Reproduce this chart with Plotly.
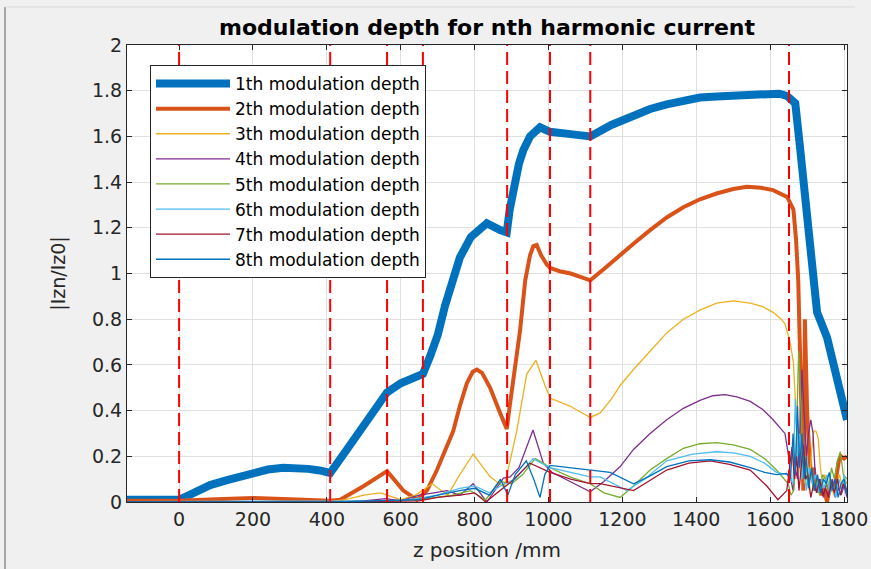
import plotly.graph_objects as go

# ---------------- data ----------------
names = [f"{n}th modulation depth" for n in range(1, 9)]
colors = ["#0072BD", "#D95319", "#EDB120", "#7E2F8E", "#77AC30", "#4DBEEE", "#A2142F", "#0072BD"]
widths = [8, 4, 1.3, 1.3, 1.3, 1.3, 1.3, 1.3]

z1 = [-141, 0, 20, 50, 84, 130, 170, 200, 240, 282, 320, 350, 380, 409, 450, 500, 540, 563, 600, 640,
      660, 680, 700, 720, 740, 760, 790, 833, 869, 887, 895, 905, 920, 932, 950, 977, 1004, 1060, 1113,
      1170, 1230, 1275, 1320, 1365, 1410, 1455, 1500, 1550, 1592, 1625, 1646, 1668, 1681, 1700, 1716,
      1727, 1754, 1771, 1789, 1808]
v1 = [0.01, 0.01, 0.025, 0.05, 0.074, 0.096, 0.115, 0.13, 0.142, 0.15, 0.15, 0.145, 0.138, 0.127, 0.22,
      0.33, 0.43, 0.48, 0.52, 0.545, 0.56, 0.64, 0.73, 0.86, 0.98, 1.07, 1.16, 1.22, 1.19, 1.18, 1.28,
      1.38, 1.48, 1.54, 1.60, 1.64, 1.62, 1.61, 1.60, 1.65, 1.69, 1.72, 1.74, 1.755, 1.77, 1.775, 1.78,
      1.785, 1.79, 1.787, 1.777, 1.745, 1.55, 1.23, 0.97, 0.83, 0.72, 0.61, 0.49, 0.36]

z2 = [-141, 0, 100, 200, 300, 409, 436, 500, 563, 607, 644, 671, 698, 720, 742, 760, 779, 795, 806,
      820, 842, 869, 887, 895, 905, 915, 923, 937, 950, 959, 968, 980, 995, 1004, 1030, 1060, 1090, 1113,
      1150, 1185, 1230, 1275, 1320, 1365, 1410, 1455, 1500, 1537, 1575, 1608, 1630, 1646, 1663, 1670,
      1676, 1684, 1690, 1694, 1700, 1706, 1712, 1718, 1724, 1730, 1738, 1746, 1754, 1762, 1770, 1778,
      1786, 1792, 1800, 1808]
v2 = [0.005, 0.005, 0.012, 0.018, 0.012, 0.005, 0.01, 0.07, 0.135, 0.05, 0.01, 0.05, 0.14, 0.22, 0.31,
      0.42, 0.52, 0.57, 0.58, 0.565, 0.50, 0.39, 0.32, 0.42, 0.53, 0.65, 0.75, 0.97, 1.08, 1.12, 1.125,
      1.08, 1.04, 1.025, 1.01, 1.0, 0.985, 0.97, 1.02, 1.07, 1.13, 1.19, 1.245, 1.29, 1.325, 1.35, 1.37,
      1.38, 1.375, 1.365, 1.35, 1.335, 1.28, 1.15, 0.97, 0.5, 0.05, 0.8, 0.4, 0.2, 0.1, 0.15, 0.05, 0.1,
      0.03, 0.06, 0.0, 0.08, 0.05, 0.1, 0.18, 0.2, 0.19, 0.2]

z3 = [-141, 0, 200, 409, 450, 500, 545, 600, 640, 685, 727, 760, 796, 842, 880, 914, 941, 966, 986,
      1004, 1058, 1113, 1140, 1170, 1194, 1230, 1275, 1320, 1365, 1410, 1455, 1500, 1546, 1580, 1608,
      1630, 1640, 1654, 1663, 1670, 1676, 1682, 1688, 1694, 1700, 1706, 1712, 1718, 1724, 1730, 1736,
      1742, 1748, 1756, 1764, 1772, 1780, 1788, 1796, 1802, 1808]
v3 = [0.0, 0.0, 0.002, 0.002, 0.01, 0.03, 0.04, 0.01, 0.03, 0.08, 0.03, 0.12, 0.21, 0.11, 0.065, 0.31,
      0.56, 0.62, 0.53, 0.455, 0.42, 0.37, 0.39, 0.45, 0.51, 0.58, 0.66, 0.74, 0.80, 0.84, 0.87, 0.88,
      0.87, 0.855, 0.83, 0.80, 0.78, 0.70, 0.61, 0.40, 0.2, 0.12, 0.18, 0.08, 0.12, 0.05, 0.22, 0.31,
      0.31, 0.28, 0.15, 0.08, 0.12, 0.05, 0.1, 0.03, 0.08, 0.12, 0.06, 0.1, 0.08]

z4 = [-141, 0, 409, 500, 560, 600, 650, 690, 725, 760, 796, 833, 860, 878, 896, 920, 958, 986, 1009,
      1058, 1113, 1150, 1194, 1230, 1275, 1320, 1365, 1410, 1445, 1478, 1510, 1546, 1580, 1608, 1630,
      1640, 1650, 1656, 1662, 1668, 1674, 1680, 1686, 1692, 1698, 1704, 1710, 1716, 1722, 1728, 1736,
      1744, 1752, 1760, 1768, 1776, 1784, 1792, 1800, 1808]
v4 = [0.0, 0.0, 0.0, 0.005, 0.015, 0.005, 0.03, 0.04, 0.05, 0.03, 0.08, 0.0, 0.06, 0.105, 0.11, 0.15,
      0.315, 0.17, 0.13, 0.09, 0.045, 0.09, 0.155, 0.23, 0.30, 0.36, 0.41, 0.445, 0.465, 0.47, 0.46,
      0.44, 0.405, 0.36, 0.32, 0.30, 0.2, 0.1, 0.05, 0.15, 0.1, 0.3, 0.58, 0.4, 0.2, 0.3, 0.36, 0.3,
      0.12, 0.05, 0.1, 0.02, 0.08, 0.04, 0.1, 0.02, 0.06, 0.03, 0.07, 0.02]

z5 = [-141, 0, 409, 560, 650, 700, 740, 788, 830, 869, 900, 930, 964, 986, 1004, 1058, 1113, 1150,
      1194, 1230, 1275, 1320, 1365, 1410, 1455, 1500, 1546, 1585, 1617, 1649, 1656, 1664, 1670, 1677,
      1684, 1690, 1696, 1702, 1710, 1718, 1726, 1734, 1742, 1750, 1758, 1766, 1774, 1782, 1790, 1798,
      1808]
v5 = [0.0, 0.0, 0.0, 0.002, 0.01, 0.02, 0.03, 0.05, 0.01, 0.09, 0.08, 0.12, 0.19, 0.17, 0.15, 0.11,
      0.08, 0.04, 0.02, 0.07, 0.14, 0.19, 0.235, 0.255, 0.26, 0.25, 0.23, 0.19, 0.14, 0.08, 0.03, 0.05,
      0.2, 0.66, 0.4, 0.1, 0.2, 0.08, 0.12, 0.05, 0.1, 0.03, 0.12, 0.1, 0.05, 0.15, 0.1, 0.18, 0.22,
      0.12, 0.1]

z6 = [-141, 0, 409, 600, 700, 760, 800, 840, 880, 910, 958, 1004, 1060, 1113, 1140, 1212, 1260, 1320,
      1390, 1455, 1500, 1546, 1585, 1617, 1645, 1655, 1662, 1668, 1674, 1680, 1686, 1692, 1698, 1706,
      1714, 1722, 1730, 1738, 1746, 1754, 1762, 1770, 1778, 1786, 1794, 1800, 1808]
v6 = [0.002, 0.002, 0.002, 0.005, 0.03, 0.06, 0.07, 0.04, 0.08, 0.1, 0.19, 0.15, 0.13, 0.11, 0.11,
      0.05, 0.10, 0.18, 0.21, 0.22, 0.215, 0.20, 0.17, 0.13, 0.12, 0.1, 0.08, 0.45, 0.2, 0.3, 0.1, 0.2,
      0.05, 0.15, 0.08, 0.12, 0.04, 0.1, 0.06, 0.12, 0.03, 0.08, 0.02, 0.1, 0.05, 0.12, 0.04]

z7 = [-141, 0, 409, 650, 700, 760, 800, 830, 870, 900, 950, 1004, 1060, 1113, 1140, 1230, 1270, 1320,
      1380, 1438, 1490, 1546, 1591, 1621, 1645, 1659, 1666, 1672, 1678, 1684, 1690, 1696, 1702, 1710,
      1718, 1726, 1734, 1742, 1750, 1758, 1766, 1774, 1782, 1790, 1798, 1808]
v7 = [0.0, 0.0, 0.0, 0.005, 0.02, 0.03, 0.04, 0.0, 0.05, 0.09, 0.17, 0.13, 0.1, 0.08, 0.08, 0.05, 0.09,
      0.14, 0.17, 0.18, 0.165, 0.14, 0.07, 0.01, 0.05, 0.24, 0.1, 0.2, 0.05, 0.15, 0.25, 0.1, 0.12, 0.02,
      0.08, 0.04, 0.1, 0.03, 0.06, 0.02, 0.09, 0.04, 0.1, 0.03, 0.08, 0.05]

z8 = [-141, 0, 409, 650, 700, 760, 800, 840, 870, 890, 910, 940, 960, 977, 990, 1004, 1060, 1113,
      1167, 1230, 1270, 1320, 1380, 1438, 1490, 1546, 1585, 1617, 1645, 1655, 1662, 1668, 1674, 1680,
      1686, 1692, 1698, 1704, 1712, 1720, 1728, 1736, 1744, 1752, 1760, 1768, 1776, 1784, 1792, 1800,
      1808]
v8 = [0.0, 0.0, 0.0, 0.01, 0.03, 0.05, 0.06, 0.03, 0.1, 0.03, 0.12, 0.18, 0.1, 0.02, 0.12, 0.16, 0.15,
      0.14, 0.13, 0.08, 0.11, 0.155, 0.18, 0.185, 0.175, 0.15, 0.13, 0.12, 0.125, 0.1, 0.3, 0.12, 0.42,
      0.15, 0.3, 0.1, 0.2, 0.06, 0.15, 0.05, 0.12, 0.04, 0.1, 0.08, 0.13, 0.05, 0.1, 0.02, 0.08, 0.1,
      0.03]

boundaries = [0, 409, 563, 660, 888, 1004, 1113, 1651]
x_ticks = [0, 200, 400, 600, 800, 1000, 1200, 1400, 1600, 1800]
x_range = [-141, 1808]
y_range = [0, 2]

zs = [z1, z2, z3, z4, z5, z6, z7, z8]
vs = [v1, v2, v3, v4, v5, v6, v7, v8]

FONT = "DejaVu Sans"
fig = go.Figure()
for name, col, w, z, v in zip(names, colors, widths, zs, vs):
    fig.add_trace(go.Scatter(x=z, y=v, mode="lines", name=name,
                             line=dict(color=col, width=w)))

for b in boundaries:
    fig.add_vline(x=b, line=dict(color="#FF0000", width=2, dash="13px,6px"), layer="above")

# window frame of the original screenshot
fig.add_shape(type="line", xref="paper", yref="paper", x0=(5 - 127) / 720, x1=(5 - 127) / 720,
              y0=(502 - 569) / 457, y1=(502 - 7) / 457, line=dict(color="#a6a6a6", width=2), layer="below")
fig.add_shape(type="line", xref="paper", yref="paper", x0=(5 - 127) / 720, x1=(855 - 127) / 720,
              y0=(502 - 7) / 457, y1=(502 - 7) / 457, line=dict(color="#dadada", width=1), layer="below")

axis_common = dict(showline=True, linecolor="#262626", linewidth=1, mirror="allticks",
                   ticks="inside", ticklen=5, tickcolor="#262626", showgrid=True,
                   gridcolor="#e0e0e0", gridwidth=1, zeroline=False, automargin=False,
                   tickfont=dict(family=FONT, size=19, color="#262626"))

fig.update_layout(
    width=871, height=569,
    margin=dict(l=127, r=24, t=45, b=67),
    paper_bgcolor="#f0f0f0", plot_bgcolor="#ffffff",
    title=dict(text="<b>modulation depth for nth harmonic current</b>",
               x=0.5, xref="paper", xanchor="center", y=1 - 27 / 569, yanchor="middle",
               font=dict(family=FONT, size=22, color="#000000")),
    xaxis=dict(range=x_range, tickvals=x_ticks, **axis_common,
               title=dict(text="z position /mm", font=dict(family=FONT, size=20, color="#262626"),
                          standoff=14)),
    yaxis=dict(range=y_range, dtick=0.2, **axis_common,
               title=dict(text="|Izn/Iz0|", font=dict(family=FONT, size=19, color="#262626"),
                          standoff=21)),
    legend=dict(x=(150 - 127) / 720, y=(502 - 65) / 457, xanchor="left", yanchor="top",
                bgcolor="#ffffff", bordercolor="#262626", borderwidth=1, itemwidth=74,
                font=dict(family=FONT, size=17, color="#000000"), tracegroupgap=0),
    showlegend=True,
)

fig.write_html("out.html")
